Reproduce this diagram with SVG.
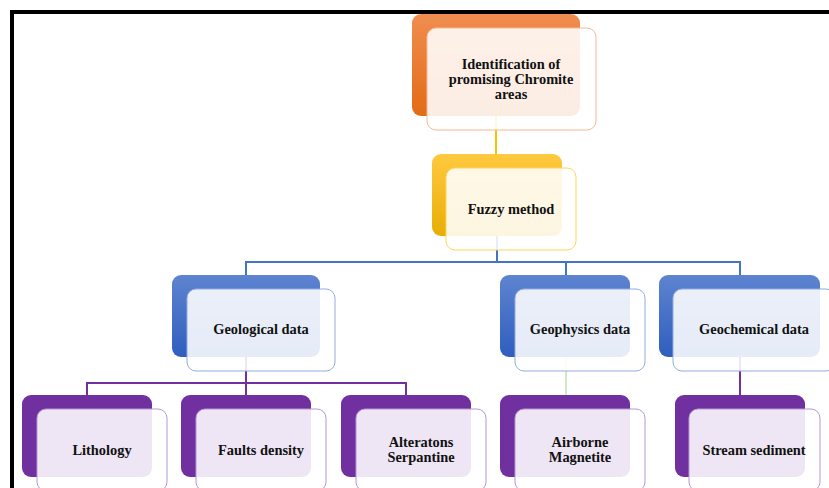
<svg xmlns="http://www.w3.org/2000/svg" width="829" height="488" viewBox="0 0 829 488">
<defs>
<linearGradient id="gOrange" x1="0" y1="0" x2="0" y2="1"><stop offset="0" stop-color="#F08D50"/><stop offset="1" stop-color="#E26B16"/></linearGradient>
<linearGradient id="gYellow" x1="0" y1="0" x2="0" y2="1"><stop offset="0" stop-color="#FFC940"/><stop offset="1" stop-color="#E7AE05"/></linearGradient>
<linearGradient id="gBlue" x1="0" y1="0" x2="0" y2="1"><stop offset="0" stop-color="#5E84D0"/><stop offset="1" stop-color="#2F5EBE"/></linearGradient>
</defs>
<style>
.t{font-family:"Liberation Serif","Times New Roman",serif;font-weight:bold;font-size:14.4px;fill:#111;text-anchor:middle}
.front{fill:#FFFFFF;fill-opacity:0.88;stroke-width:1}
.bo{fill:url(#gOrange)}
.by{fill:url(#gYellow)}
.bb{fill:url(#gBlue)}
.bp{fill:#7030A0}
.fo{stroke:#F6B894}
.fy{stroke:#FFD55A}
.fb{stroke:#93ACE0}
.fp{stroke:#B796D6}
.c{fill:none;stroke-width:2}
</style>
<rect width="829" height="488" fill="#FFFFFF"/>
<path d="M12 488 V12 H829" fill="none" stroke="#000" stroke-width="4"/>
<g id="connectors">
<path class="c" d="M496 116 V155" stroke="#FFC000"/>
<path class="c" d="M497 236 V262 M246 275 V262 H740 V275 M566 262 V275" stroke="#4472C4"/>
<path class="c" d="M246 357 V395 M87 395 V383 H406 V395" stroke="#7030A0"/>
<path d="M566 357 V395" stroke="#A9D18E" stroke-width="1" fill="none"/>
<path class="c" d="M740 357 V395" stroke="#7030A0"/>
</g>
<g id="n-top">
<rect class="bo" x="412" y="14" width="168" height="102" rx="9"/>
<rect class="front fo" x="427" y="28" width="169" height="102" rx="9"/>
<text class="t" x="511" y="69">Identification of</text>
<text class="t" x="511" y="84">promising Chromite</text>
<text class="t" x="511" y="99">areas</text>
</g>
<g id="n-fuzzy">
<rect class="by" x="432" y="154" width="130" height="82" rx="9"/>
<rect class="front fy" x="446" y="168" width="130" height="82" rx="9"/>
<text class="t" x="511" y="214">Fuzzy  method</text>
</g>
<g id="n-geological">
<rect class="bb" x="172" y="275" width="148" height="82" rx="9"/>
<rect class="front fb" x="187" y="289" width="148" height="82" rx="9"/>
<text class="t" x="261" y="334">Geological data</text>
</g>
<g id="n-geophysics">
<rect class="bb" x="500" y="275" width="130" height="82" rx="9"/>
<rect class="front fb" x="515" y="289" width="130" height="82" rx="9"/>
<text class="t" x="580" y="334">Geophysics data</text>
</g>
<g id="n-geochemical">
<rect class="bb" x="659" y="275" width="161" height="82" rx="9"/>
<rect class="front fb" x="673" y="289" width="162" height="82" rx="9"/>
<text class="t" x="754" y="334">Geochemical data</text>
</g>
<g id="n-lithology">
<rect class="bp" x="22" y="395" width="130" height="82" rx="9"/>
<rect class="front fp" x="37" y="409" width="130" height="82" rx="9"/>
<text class="t" x="102" y="455">Lithology</text>
</g>
<g id="n-faults">
<rect class="bp" x="181" y="395" width="130" height="82" rx="9"/>
<rect class="front fp" x="196" y="409" width="130" height="82" rx="9"/>
<text class="t" x="261" y="455">Faults density</text>
</g>
<g id="n-alteratons">
<rect class="bp" x="341" y="395" width="130" height="82" rx="9"/>
<rect class="front fp" x="356" y="409" width="130" height="82" rx="9"/>
<text class="t" x="421" y="447">Alteratons</text>
<text class="t" x="421" y="462">Serpantine</text>
</g>
<g id="n-airborne">
<rect class="bp" x="500" y="395" width="130" height="82" rx="9"/>
<rect class="front fp" x="515" y="409" width="130" height="82" rx="9"/>
<text class="t" x="580" y="447">Airborne</text>
<text class="t" x="580" y="462">Magnetite</text>
</g>
<g id="n-stream">
<rect class="bp" x="675" y="395" width="130" height="82" rx="9"/>
<rect class="front fp" x="689" y="409" width="131" height="82" rx="9"/>
<text class="t" x="754" y="455">Stream sediment</text>
</g>
</svg>
